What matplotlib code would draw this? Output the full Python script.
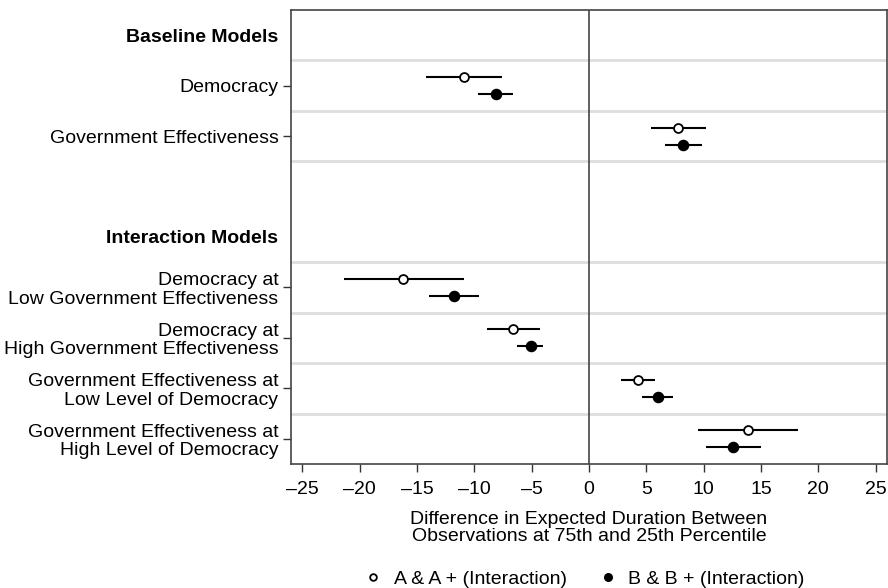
import matplotlib
matplotlib.use("Agg")
import matplotlib.pyplot as plt
import numpy as np

plt.rcParams['font.family'] = ['Liberation Sans', 'DejaVu Sans']

row_labels = ["Baseline Models", "Democracy", "Government Effectiveness", "",
              "Interaction Models",
              "Democracy at\nLow Government Effectiveness",
              "Democracy at\nHigh Government Effectiveness",
              "Government Effectiveness at\nLow Level of Democracy",
              "Government Effectiveness at\nHigh Level of Democracy"]
header_rows = [0, 4]
data_rows = [1, 2, 5, 6, 7, 8]

# Series A & A + (Interaction) (open circles)
a_est = [-10.9, 7.8, -16.2, -6.6, 4.3, 13.9]
a_lo = [-14.2, 5.45, -21.4, -8.9, 2.8, 9.5]
a_hi = [-7.6, 10.2, -10.9, -4.3, 5.8, 18.25]
# Series B & B + (Interaction) (filled circles)
b_est = [-8.15, 8.2, -11.8, -5.1, 6.0, 12.6]
b_lo = [-9.65, 6.6, -13.95, -6.3, 4.65, 10.2]
b_hi = [-6.6, 9.85, -9.6, -4.0, 7.3, 15.05]

xticks = [-25, -20, -15, -10, -5, 0, 5, 10, 15, 20, 25]
grid_rows = [0.5, 1.5, 2.5, 4.5, 5.5, 6.5, 7.5]

FS = 14

fig = plt.figure(figsize=(8.88, 5.88), dpi=100)
ax = fig.add_axes([291/888, 1-464/588, (887-291)/888, (464-10)/588])

for g in grid_rows:
    ax.axhline(g, color='#dedede', lw=2, zorder=0)
ax.axvline(0, color='#444444', lw=1.2, zorder=1)

off = 0.17
ya = np.array(data_rows) - off
yb = np.array(data_rows) + off
ax.hlines(ya, a_lo, a_hi, color='black', lw=1.5, zorder=2)
ax.hlines(yb, b_lo, b_hi, color='black', lw=1.5, zorder=2)
ax.plot(a_est, ya, 'o', ms=6.4, mfc='white', mec='black', mew=1.3, ls='none', zorder=3,
        label='A & A + (Interaction)')
ax.plot(b_est, yb, 'o', ms=7.3, mfc='black', mec='black', ls='none', zorder=3,
        label='B & B + (Interaction)')

ax.set_xlim(-26, 26)
ax.set_ylim(8.5, -0.5)
ax.set_xticks(xticks)
ax.set_xticklabels([str(t).replace('-', '\u2013') for t in xticks], fontsize=FS)

ax.set_yticks(list(range(9)))
ax.set_yticklabels(row_labels, fontsize=FS, linespacing=1.1)
for i, t in enumerate(ax.yaxis.get_major_ticks()):
    if i in header_rows or row_labels[i] == "":
        t.tick1line.set_visible(False)
    if i in header_rows:
        t.label1.set_fontweight('bold')
ax.tick_params(axis='both', direction='out', length=6, width=1, color='#333333')
ax.tick_params(axis='y', pad=3)
ax.tick_params(axis='x', pad=6.5)

for s in ax.spines.values():
    s.set_color('#444444')
    s.set_linewidth(1.2)

ax.set_xlabel("Difference in Expected Duration Between\nObservations at 75th and 25th Percentile",
              fontsize=FS, linespacing=1.0, labelpad=9)

fig.legend(loc='center', bbox_to_anchor=(584/888, 1-579/588), ncol=2, frameon=False,
           fontsize=FS, handletextpad=0.55, columnspacing=1.6, markerscale=0.75,
           handlelength=1.0, borderpad=0)

fig.savefig("out.png", dpi=100)
